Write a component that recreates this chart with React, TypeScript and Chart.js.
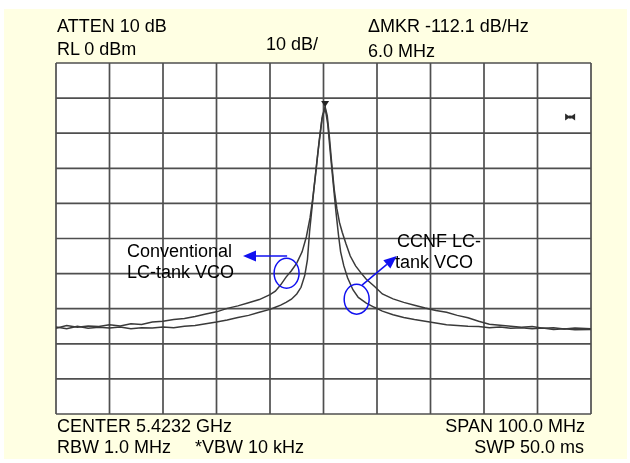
import React, { useEffect, useRef } from "react";
import { Chart, registerables } from "chart.js";

Chart.register(...registerables);

// Frequency offsets from centre (MHz) and levels (dBm)
const convFreq = [-50, -48, -46, -44, -42, -40, -38, -36, -34, -32, -30, -28, -26, -24, -22, -20, -18, -16, -14, -12, -10, -9, -8, -7, -6, -5, -4, -3.2, -2.5, -2, -1.5, -1, -0.6, -0.2, 0.3, 0.7, 1.1, 1.5, 2, 2.5, 3, 3.5, 4.2, 5, 6, 7, 8, 9.5, 11, 13, 15, 17, 19, 21, 23, 25, 27, 29, 31, 33, 35, 37, 39, 41, 43, 45, 47, 50];
const convLevel = [-75.6, -74.8, -75.3, -74.9, -75.1, -74.6, -74.9, -74.3, -74.5, -73.8, -73.6, -73.1, -72.8, -72.2, -71.5, -70.9, -69.9, -69.2, -68.3, -67.4, -66.0, -65.0, -63.2, -61.0, -59.2, -57.0, -53.8, -49.5, -44, -38.5, -32, -25, -20, -15, -12.5, -15, -21, -28, -36, -41.5, -45.5, -48.2, -51.5, -55, -57.8, -59.8, -61.6, -63.6, -65.8, -67.2, -68.2, -69.0, -69.8, -70.5, -71.0, -71.9, -72.6, -73.6, -74.4, -74.7, -75.0, -75.3, -75.1, -75.6, -75.4, -75.8, -75.5, -75.7];

const ccnfFreq = [-50, -48, -46, -44, -42, -40, -38, -36, -34, -32, -30, -28, -26, -24, -22, -20, -18, -16, -14, -12, -10, -9, -8, -7, -6, -5, -4.2, -3.5, -3, -2.6, -2.2, -1.8, -1.3, -0.8, -0.3, 0.3, 0.8, 1.3, 1.8, 2.3, 2.8, 3.2, 3.8, 4.5, 5.5, 6.5, 8, 9.5, 11, 13, 15, 17, 19, 21, 23, 25, 27, 29, 31, 33, 35, 37, 39, 41, 43, 45, 47, 50];
const ccnfLevel = [-75.2, -75.7, -75.0, -75.6, -75.3, -75.5, -75.2, -75.7, -75.4, -75.5, -75.2, -75.4, -75.0, -74.8, -74.3, -73.8, -73.2, -72.5, -71.9, -71.0, -70.2, -69.6, -69.0, -68.2, -67.3, -65.8, -63.9, -60.5, -56, -48, -42, -36, -29, -22, -16, -12.8, -17.5, -26, -34, -42, -49, -53.8, -57.8, -61.2, -64.6, -66.8, -68.4, -69.6, -70.7, -71.7, -72.5, -73.1, -73.6, -74.1, -74.6, -74.8, -75.0, -75.1, -75.4, -75.2, -75.6, -75.4, -75.7, -75.5, -75.9, -75.7, -76.0, -75.9];

// Graticule divisions: 10 MHz/div, 10 dB/div
const freqGrid = [-50, -40, -30, -20, -10, 0, 10, 20, 30, 40, 50];
const levelGrid = [0, -10, -20, -30, -40, -50, -60, -70, -80, -90, -100];

// Marker and annotation anchors (data coordinates: MHz, dBm)
const peakMarker = { f: 0.3, db: -12.5 };
const deltaMarker = { f: 46.1, db: -15.4 };
const convEllipse = { f: -6.9, db: -59.9 };
const convArrowFrom = { f: -6.8, db: -55.0 };
const convArrowTo = { f: -15.05, db: -55.0 };
const ccnfEllipse = { f: 6.2, db: -67.3 };
const ccnfArrowFrom = { f: 7.2, db: -63.3 };
const ccnfArrowTo = { f: 13.7, db: -55.0 };

const FONT = "'Liberation Sans', Arial, Helvetica, sans-serif";
const FONT_SIZE = 18;

const analyzerPlugin = {
  id: "analyzer",
  beforeDraw(chart: any) {
    const { ctx, chartArea } = chart;
    ctx.save();
    ctx.fillStyle = "#ffffff";
    ctx.fillRect(chartArea.left, chartArea.top, chartArea.right - chartArea.left, chartArea.bottom - chartArea.top);
    ctx.restore();
  },
  beforeDatasetsDraw(chart: any) {
    const { ctx, chartArea, scales } = chart;
    const xs = scales.x;
    const ys = scales.y;
    ctx.save();
    ctx.strokeStyle = "#4f4f4f";
    ctx.lineWidth = 1.7;
    freqGrid.forEach((v) => {
      const x = xs.getPixelForValue(v);
      ctx.beginPath();
      ctx.moveTo(x, chartArea.top);
      ctx.lineTo(x, chartArea.bottom);
      ctx.stroke();
    });
    levelGrid.forEach((v) => {
      const y = ys.getPixelForValue(v);
      ctx.beginPath();
      ctx.moveTo(chartArea.left, y);
      ctx.lineTo(chartArea.right, y);
      ctx.stroke();
    });
    ctx.restore();
  },
  afterDatasetsDraw(chart: any) {
    const { ctx, scales } = chart;
    const xs = scales.x;
    const ys = scales.y;
    const P = (p: { f: number; db: number }) => [xs.getPixelForValue(p.f), ys.getPixelForValue(p.db)];
    ctx.save();
    // peak marker
    const [px, py] = P(peakMarker);
    ctx.fillStyle = "#222222";
    ctx.beginPath();
    ctx.moveTo(px - 4, py - 6);
    ctx.lineTo(px + 4, py - 6);
    ctx.lineTo(px, py);
    ctx.closePath();
    ctx.fill();
    // delta marker bowtie
    const [dx, dy] = P(deltaMarker);
    ctx.fillStyle = "#2a2a2a";
    ctx.beginPath();
    ctx.moveTo(dx - 5, dy - 3.5);
    ctx.lineTo(dx, dy);
    ctx.lineTo(dx - 5, dy + 3.5);
    ctx.closePath();
    ctx.fill();
    ctx.beginPath();
    ctx.moveTo(dx + 5, dy - 3.5);
    ctx.lineTo(dx, dy);
    ctx.lineTo(dx + 5, dy + 3.5);
    ctx.closePath();
    ctx.fill();
    ctx.fillRect(dx - 1.5, dy - 1.5, 3, 3);

    // annotations
    const blue = "#1010f0";
    ctx.strokeStyle = blue;
    ctx.fillStyle = blue;
    ctx.lineWidth = 1.5;
    const ellipse = (c: { f: number; db: number }) => {
      const [cx, cy] = P(c);
      ctx.beginPath();
      ctx.ellipse(cx, cy, 12.5, 15, 0, 0, Math.PI * 2);
      ctx.stroke();
    };
    const arrow = (a: { f: number; db: number }, b: { f: number; db: number }) => {
      const [x1, y1] = P(a);
      const [x2, y2] = P(b);
      const ang = Math.atan2(y2 - y1, x2 - x1);
      const len = 13;
      const hw = 5.5;
      const bx = x2 - len * Math.cos(ang);
      const by = y2 - len * Math.sin(ang);
      ctx.beginPath();
      ctx.moveTo(x1, y1);
      ctx.lineTo(bx, by);
      ctx.stroke();
      ctx.beginPath();
      ctx.moveTo(x2, y2);
      ctx.lineTo(bx + hw * Math.sin(ang), by - hw * Math.cos(ang));
      ctx.lineTo(bx - hw * Math.sin(ang), by + hw * Math.cos(ang));
      ctx.closePath();
      ctx.fill();
    };
    ellipse(convEllipse);
    arrow(convArrowFrom, convArrowTo);
    ellipse(ccnfEllipse);
    arrow(ccnfArrowFrom, ccnfArrowTo);
    ctx.restore();
  },
};

const textStyle = (left: number, baseline: number, align: "left" | "right" = "left"): React.CSSProperties => {
  const s: React.CSSProperties = {
    position: "absolute",
    top: baseline - 0.8465 * FONT_SIZE,
    fontFamily: FONT,
    fontSize: FONT_SIZE,
    lineHeight: `${FONT_SIZE}px`,
    color: "#000",
    whiteSpace: "pre",
  };
  if (align === "left") s.left = left;
  else s.right = 630 - left;
  return s;
};

export default function App() {
  const canvasRef = useRef<HTMLCanvasElement | null>(null);

  useEffect(() => {
    if (!canvasRef.current) return;
    const chart = new Chart(canvasRef.current, {
      type: "line",
      data: {
        datasets: [
          {
            label: "Conventional LC-tank VCO",
            data: convFreq.map((f, i) => ({ x: f, y: convLevel[i] })),
            borderColor: "#3a3a3a",
            borderWidth: 1.5,
            pointRadius: 0,
            tension: 0,
          },
          {
            label: "CCNF LC-tank VCO",
            data: ccnfFreq.map((f, i) => ({ x: f, y: ccnfLevel[i] })),
            borderColor: "#3a3a3a",
            borderWidth: 1.5,
            pointRadius: 0,
            tension: 0,
          },
        ],
      },
      options: {
        responsive: false,
        animation: false,
        devicePixelRatio: 1,
        layout: { padding: { left: 56, right: 39, top: 63, bottom: 49 } },
        plugins: { legend: { display: false }, tooltip: { enabled: false } },
        scales: {
          x: { type: "linear", min: -50, max: 50, display: false },
          y: { type: "linear", min: -100, max: 0, display: false },
        },
      },
      plugins: [analyzerPlugin],
    });
    return () => chart.destroy();
  }, []);

  return (
    <div style={{ position: "fixed", left: 0, top: 0, width: 630, height: 463, background: "#ffffff", overflow: "hidden" }}>
      <div style={{ position: "absolute", left: 4, top: 9, width: 623, height: 450, background: "#ffffe3" }} />
      <canvas ref={canvasRef} width={630} height={463} style={{ position: "absolute", left: 0, top: 0, width: 630, height: 463 }} />
      <div style={textStyle(57, 32.7)}>ATTEN 10 dB</div>
      <div style={textStyle(57, 55)}>RL 0 dBm</div>
      <div style={textStyle(266, 50)}>10 dB/</div>
      <div style={textStyle(368, 32.7)}>ΔMKR -112.1 dB/Hz</div>
      <div style={textStyle(368, 57)}>6.0 MHz</div>
      <div style={textStyle(57, 432)}>CENTER 5.4232 GHz</div>
      <div style={textStyle(57, 453)}>RBW 1.0 MHz</div>
      <div style={textStyle(195, 453)}>*VBW 10 kHz</div>
      <div style={textStyle(585, 432, "right")}>SPAN 100.0 MHz</div>
      <div style={textStyle(584, 453, "right")}>SWP 50.0 ms</div>
      <div style={textStyle(127, 257)}>Conventional</div>
      <div style={textStyle(127, 278)}>LC-tank VCO</div>
      <div style={textStyle(397, 247)}>CCNF LC-</div>
      <div style={textStyle(395, 268)}>tank VCO</div>
    </div>
  );
}
